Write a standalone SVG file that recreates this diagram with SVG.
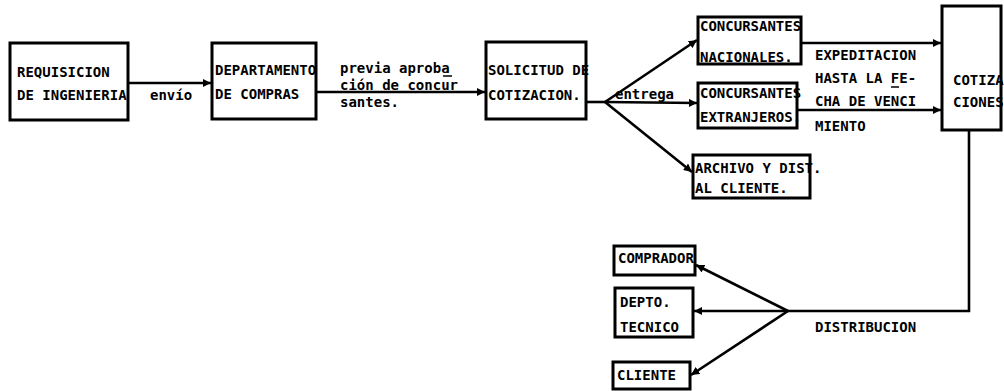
<svg xmlns="http://www.w3.org/2000/svg" width="1004" height="391" viewBox="0 0 1004 391">
<style>
.box{fill:#fff;stroke:#000;stroke-width:3}
.t{font-family:"DejaVu Sans Mono","Liberation Mono",monospace;font-weight:bold;font-size:14px;fill:#000}
.c{fill:none;stroke:#000;stroke-width:2.6}
</style>
<defs>
<marker id="ah" viewBox="0 0 10 10" refX="10" refY="5" markerWidth="3.2" markerHeight="3.2" orient="auto" markerUnits="strokeWidth">
<path d="M0,0 L10,5 L0,10 z" fill="#000"/>
</marker>
</defs>
<rect width="1004" height="391" fill="#fff"/>
<g id="connectors">
<line class="c" x1="128" y1="83" x2="211" y2="83" marker-end="url(#ah)"/>
<line class="c" x1="316" y1="92" x2="485" y2="92" marker-end="url(#ah)"/>
<polyline class="c" points="586,102 605,102"/>
<line class="c" x1="605" y1="102" x2="697" y2="40" marker-end="url(#ah)"/>
<line class="c" x1="605" y1="102" x2="697" y2="103" marker-end="url(#ah)"/>
<line class="c" x1="605" y1="102" x2="692" y2="172" marker-end="url(#ah)"/>
<line class="c" x1="801" y1="43" x2="941" y2="43" marker-end="url(#ah)"/>
<line class="c" x1="797" y1="110" x2="941" y2="110" marker-end="url(#ah)"/>
<polyline class="c" points="969,130 969,311 788,311"/>
<line class="c" x1="788" y1="311" x2="696" y2="265" marker-end="url(#ah)"/>
<line class="c" x1="788" y1="311" x2="694" y2="311" marker-end="url(#ah)"/>
<line class="c" x1="788" y1="311" x2="691" y2="375" marker-end="url(#ah)"/>
<text class="t" x="150" y="100">envío</text>
<text class="t" x="340" y="73">previa aproba</text>
<line x1="443" y1="76" x2="452" y2="76" stroke="#000" stroke-width="1.5"/>
<text class="t" x="340" y="90">ción de concur</text>
<text class="t" x="340" y="107">santes.</text>
<text class="t" x="615" y="99">entrega</text>
<text class="t" x="815" y="60">EXPEDITACION</text>
<text class="t" x="815" y="83">HASTA LA FE-</text>
<line x1="891" y1="87" x2="899" y2="87" stroke="#000" stroke-width="1.5"/>
<text class="t" x="815" y="106">CHA DE VENCI</text>
<text class="t" x="815" y="131">MIENTO</text>
<text class="t" x="815" y="332">DISTRIBUCION</text>
</g>
<g id="n-requisicion">
<rect class="box" x="10" y="43" width="118" height="77"/>
<text class="t" x="17" y="77">REQUISICION</text>
<text class="t" x="17" y="100">DE INGENIERIA</text>
</g>
<g id="n-departamento">
<rect class="box" x="212" y="43" width="104" height="76"/>
<text class="t" x="215" y="75">DEPARTAMENTO</text>
<text class="t" x="215" y="99">DE COMPRAS</text>
</g>
<g id="n-solicitud">
<rect class="box" x="486" y="42" width="100" height="77"/>
<text class="t" x="488" y="75">SOLICITUD DE</text>
<text class="t" x="488" y="100">COTIZACION.</text>
</g>
<g id="n-nacionales">
<rect class="box" x="698" y="17" width="103" height="47"/>
<text class="t" x="700" y="31">CONCURSANTES</text>
<text class="t" x="700" y="62">NACIONALES.</text>
</g>
<g id="n-extranjeros">
<rect class="box" x="698" y="83" width="99" height="45"/>
<text class="t" x="700" y="98">CONCURSANTES</text>
<text class="t" x="700" y="122">EXTRANJEROS.</text>
</g>
<g id="n-archivo">
<rect class="box" x="693" y="155" width="117" height="43"/>
<text class="t" x="695" y="173">ARCHIVO Y DIST.</text>
<text class="t" x="695" y="193">AL CLIENTE.</text>
</g>
<g id="n-cotizaciones">
<rect class="box" x="942" y="6" width="59" height="124"/>
<text class="t" x="953" y="85">COTIZA</text>
<text class="t" x="953" y="107">CIONES</text>
</g>
<g id="n-comprador">
<rect class="box" x="614" y="246" width="81" height="29"/>
<text class="t" x="618" y="263">COMPRADOR</text>
</g>
<g id="n-depto">
<rect class="box" x="615" y="288" width="78" height="49"/>
<text class="t" x="620" y="307">DEPTO.</text>
<text class="t" x="620" y="332">TECNICO</text>
</g>
<g id="n-cliente">
<rect class="box" x="613" y="362" width="77" height="27"/>
<text class="t" x="617" y="380">CLIENTE</text>
</g>
</svg>
